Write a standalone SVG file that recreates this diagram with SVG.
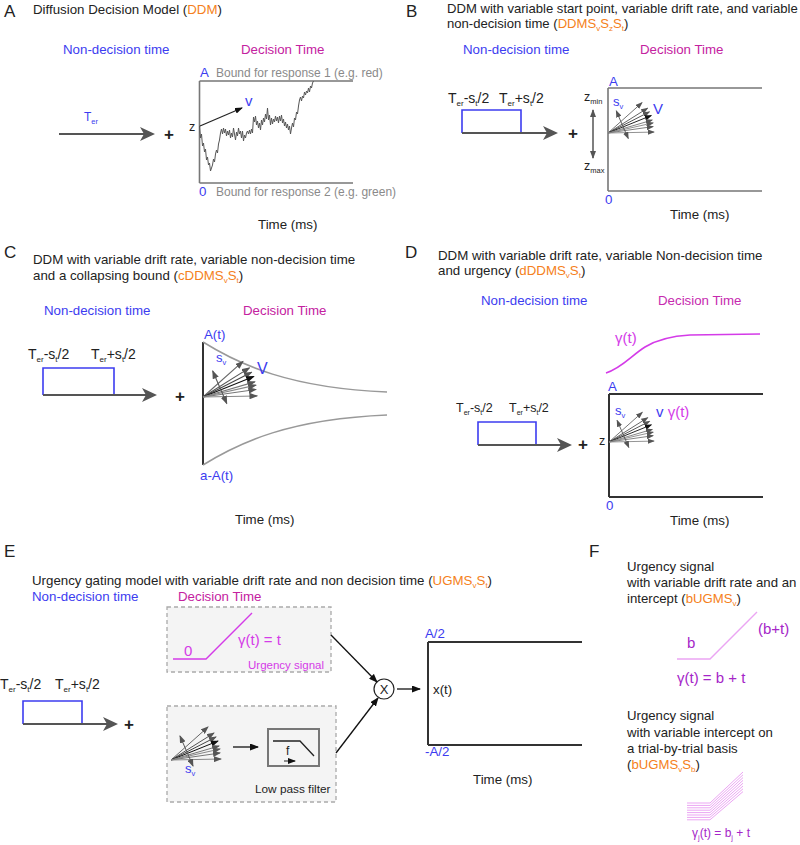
<svg xmlns="http://www.w3.org/2000/svg" xmlns:xlink="http://www.w3.org/1999/xlink" width="800" height="845" viewBox="0 0 800 845">
<style>
text{font-family:"Liberation Sans",Arial,Helvetica,sans-serif;fill:#222}
.f{font-size:13.3px}
.h{font-size:17px}
.blue{fill:#3c3cf0}
.mag{fill:#c4219f}
.org{fill:#f57f20}
.gray{fill:#8a8a8a}
.urg{fill:#d43be8}
.pur{fill:#a526c8}
.nd{fill:none;stroke:#3c3cf0;stroke-width:1.6}
.ter{fill:none;stroke:#555;stroke-width:2}
.ax{fill:none;stroke:#333;stroke-width:2}
.axg{fill:none;stroke:#777;stroke-width:1.6}
.dash{fill:#f4f4f4;stroke:#aaa;stroke-width:1.3;stroke-dasharray:4 3}
.con{fill:none;stroke:#111;stroke-width:1.3}
</style>
<defs>
<marker id="big" markerUnits="userSpaceOnUse" markerWidth="16" markerHeight="14" refX="13" refY="7" orient="auto"><path d="M0,0 L15,7 L0,14 L4,7 z" fill="#555"/></marker>
<marker id="ah" markerUnits="userSpaceOnUse" markerWidth="8" markerHeight="6" refX="7" refY="3" orient="auto-start-reverse"><path d="M0,0 L8,3 L0,6 z" fill="#555"/></marker>
<marker id="ahk" markerUnits="userSpaceOnUse" markerWidth="8" markerHeight="6" refX="7" refY="3" orient="auto"><path d="M0,0 L8,3 L0,6 z" fill="#111"/></marker>
<marker id="ahb" markerUnits="userSpaceOnUse" markerWidth="9" markerHeight="7" refX="8" refY="3.5" orient="auto"><path d="M0,0 L9,3.5 L0,7 z" fill="#111"/></marker>
<g id="fan" stroke-width="1">
<line x1="0" y1="0" x2="37" y2="-33" stroke="#666" marker-end="url(#ah)"/>
<line x1="0" y1="0" x2="43" y2="-27" stroke="#555" marker-end="url(#ah)"/>
<line x1="0" y1="0" x2="45" y2="-23" stroke="#444" marker-end="url(#ah)"/>
<line x1="0" y1="0" x2="47" y2="-19" stroke="#111" marker-end="url(#ahk)"/>
<line x1="0" y1="0" x2="48" y2="-14" stroke="#777" marker-end="url(#ah)"/>
<line x1="0" y1="0" x2="49" y2="-11" stroke="#888" marker-end="url(#ah)"/>
<line x1="0" y1="0" x2="49" y2="-7" stroke="#777" marker-end="url(#ah)"/>
<line x1="0" y1="0" x2="50" y2="-1" stroke="#888" marker-end="url(#ah)"/>
<line x1="9" y1="-24" x2="22" y2="6" stroke="#555" marker-start="url(#ah)" marker-end="url(#ah)"/>
</g>
</defs>
<rect width="800" height="845" fill="#fff"/>

<!-- Panel A -->
<g id="panelA">
<text x="4" y="17" class="h">A</text>
<text x="33" y="14" class="f">Diffusion Decision Model (<tspan class="org">DDM</tspan>)</text>
<text x="63" y="54" class="f blue">Non-decision time</text>
<text x="241" y="54" class="f mag">Decision Time</text>
<g id="A_nondecision">
<text x="84" y="121" font-size="12" class="blue">T<tspan font-size="7.5" dy="3">er</tspan></text>
<line x1="59" y1="134" x2="153" y2="134" class="ter" marker-end="url(#big)"/>
</g>
<text x="164" y="140" font-size="17" font-weight="bold">+</text>
<g id="A_decision">
<path d="M199.5,81 V183 M199.5,81 H353 M199.5,183 H353" class="axg" stroke="#777"/>
<text x="200" y="77" class="f blue">A</text>
<text x="216" y="77" font-size="12" class="gray">Bound for response 1 (e.g. red)</text>
<text x="199" y="196" class="f blue">0</text>
<text x="216" y="196" font-size="12" class="gray">Bound for response 2 (e.g. green)</text>
<text x="189" y="131" font-size="12.5">z</text>
<polyline fill="none" stroke="#555" stroke-width="1" points="199.5,126 200.5,138 201.5,134 202.5,146 203.5,143 204.5,152 205.5,149 206.5,160 207.5,157 208.5,165 209.5,163 210.5,171 211.5,168 212.5,165 213.5,159 214.5,162 215.5,154 216.5,150 217.5,153 218.5,144 219.5,140 220.5,133 221.5,129 222.5,134 223.5,128 224.5,133 225.5,129 226.5,136 227.5,131 228.5,135 229.5,130 230.5,138 231.5,133 232.5,137 233.5,128 234.5,134 235.5,140 236.5,132 237.5,136 238.5,128 239.5,134 240.5,131 241.5,138 242.5,131 243.5,141 244.5,135 245.5,138 246.5,133 247.5,131 248.5,134 249.5,130 250.5,134 251.5,129 252.5,133 253.5,117 254.5,122 255.5,116 256.5,125 257.5,121 258.5,128 259.5,123 260.5,130 261.5,120 262.5,125 263.5,118 264.5,122 265.5,114 266.5,119 267.5,108 268.5,120 269.5,115 270.5,125 271.5,118 272.5,124 273.5,119 274.5,122 275.5,116 276.5,121 277.5,117 278.5,123 279.5,116 280.5,121 281.5,115 282.5,123 283.5,119 284.5,126 285.5,122 286.5,128 287.5,124 288.5,130 289.5,126 290.5,134 291.5,128 292.5,123 293.5,127 294.5,118 295.5,120 296.5,112 297.5,114 298.5,106 299.5,100 300.5,97 301.5,101 302.5,96 303.5,98 304.5,92 305.5,95 306.5,91 307.5,93 308.5,88 309.5,92 310.5,86 311.5,88 312.5,83 313.5,81"/>
<line x1="200" y1="126" x2="242" y2="108" stroke="#222" stroke-width="1.2" marker-end="url(#ahk)"/>
<text x="245" y="106" font-size="15" class="blue">v</text>
</g>
<text x="258" y="229" class="f">Time (ms)</text>
</g>

<!-- Panel B -->
<g id="panelB">
<text x="406" y="17" class="h">B</text>
<text x="447" y="13" font-size="13.1">DDM with variable start point, variable drift rate, and variable</text>
<text x="447" y="28" font-size="13.1">non-decision time (<tspan class="org">DDMS<tspan font-size="8" dy="3">v</tspan><tspan dy="-3">S</tspan><tspan font-size="8" dy="3">z</tspan><tspan dy="-3">S</tspan><tspan font-size="8" dy="3">t</tspan></tspan><tspan dy="-3">)</tspan></text>
<text x="463" y="54" class="f blue">Non-decision time</text>
<text x="640" y="54" class="f mag">Decision Time</text>
<g id="B_nondecision">
<text x="448" y="103" font-size="14">T<tspan font-size="8" dy="3">er</tspan><tspan dy="-3">-s</tspan><tspan font-size="8" dy="3">t</tspan><tspan dy="-3">/2</tspan></text>
<text x="499" y="103" font-size="14">T<tspan font-size="8" dy="3">er</tspan><tspan dy="-3">+s</tspan><tspan font-size="8" dy="3">t</tspan><tspan dy="-3">/2</tspan></text>
<path d="M462,133 V110 H521 V133" class="nd"/>
<line x1="462" y1="133" x2="556" y2="133" class="ter" marker-end="url(#big)"/>
</g>
<text x="568" y="139" font-size="17" font-weight="bold">+</text>
<g id="B_decision">
<path d="M608,88 V191 M608,88 H762 M608,191 H762" class="axg"/>
<text x="609" y="86" class="f blue">A</text>
<text x="605" y="204" class="f blue">0</text>
<text x="584" y="101" font-size="12.5">z<tspan font-size="7.5" dy="3">min</tspan></text>
<text x="584" y="170" font-size="12.5">z<tspan font-size="7.5" dy="3">max</tspan></text>
<line x1="593" y1="110" x2="593" y2="158" stroke="#555" stroke-width="1.5" marker-start="url(#ah)" marker-end="url(#ah)"/>
<use xlink:href="#fan" href="#fan" transform="translate(608,133) scale(0.92)"/>
<text x="613" y="106" font-size="13" class="blue">s<tspan font-size="7.5" dy="3">v</tspan></text>
<text x="653" y="114" font-size="15" class="blue">V</text>
</g>
<text x="670" y="219" class="f">Time (ms)</text>
</g>

<!-- Panel C -->
<g id="panelC">
<text x="4" y="258" class="h">C</text>
<text x="33" y="264" class="f">DDM with variable drift rate, variable non-decision time</text>
<text x="33" y="280" class="f">and a collapsing bound (<tspan class="org">cDDMS<tspan font-size="8" dy="3">v</tspan><tspan dy="-3">S</tspan><tspan font-size="8" dy="3">t</tspan></tspan><tspan dy="-3">)</tspan></text>
<text x="44" y="315" class="f blue">Non-decision time</text>
<text x="243" y="315" class="f mag">Decision Time</text>
<g id="C_nondecision">
<text x="28" y="359" font-size="14">T<tspan font-size="8" dy="3">er</tspan><tspan dy="-3">-s</tspan><tspan font-size="8" dy="3">t</tspan><tspan dy="-3">/2</tspan></text>
<text x="91" y="359" font-size="14">T<tspan font-size="8" dy="3">er</tspan><tspan dy="-3">+s</tspan><tspan font-size="8" dy="3">t</tspan><tspan dy="-3">/2</tspan></text>
<path d="M43,395 V368 H114 V395" class="nd"/>
<line x1="43" y1="395" x2="155" y2="395" class="ter" marker-end="url(#big)"/>
</g>
<text x="175" y="402" font-size="17" font-weight="bold">+</text>
<g id="C_decision">
<line x1="203" y1="342" x2="203" y2="465" class="ax"/>
<path d="M203,342 C240,365 290,388 387,392" fill="none" stroke="#999" stroke-width="1.5"/>
<path d="M203,465 C240,442 290,419 387,415" fill="none" stroke="#999" stroke-width="1.5"/>
<text x="204" y="339" class="f blue">A(t)</text>
<text x="200" y="480" class="f blue">a-A(t)</text>
<use xlink:href="#fan" href="#fan" transform="translate(203,397) scale(1.08)"/>
<text x="216" y="362" font-size="13" class="blue">s<tspan font-size="7.5" dy="3">v</tspan></text>
<text x="257" y="374" font-size="16" class="blue">V</text>
</g>
<text x="235" y="524" class="f">Time (ms)</text>
</g>

<!-- Panel D -->
<g id="panelD">
<text x="405" y="258" class="h">D</text>
<text x="438" y="260" class="f">DDM with variable drift rate, variable Non-decision time</text>
<text x="438" y="275" class="f">and urgency (<tspan class="org">dDDMS<tspan font-size="8" dy="3">v</tspan><tspan dy="-3">S</tspan><tspan font-size="8" dy="3">t</tspan></tspan><tspan dy="-3">)</tspan></text>
<text x="481" y="305" class="f blue">Non-decision time</text>
<text x="658" y="305" class="f" fill="#c62aaf" style="fill:#c62aaf">Decision Time</text>
<g id="D_nondecision">
<text x="456" y="412" font-size="12.5">T<tspan font-size="7" dy="3">er</tspan><tspan dy="-3">-s</tspan><tspan font-size="7" dy="3">t</tspan><tspan dy="-3">/2</tspan></text>
<text x="509" y="412" font-size="12.5">T<tspan font-size="7" dy="3">er</tspan><tspan dy="-3">+s</tspan><tspan font-size="7" dy="3">t</tspan><tspan dy="-3">/2</tspan></text>
<path d="M478,445 V422 H536 V445" class="nd"/>
<line x1="478" y1="445" x2="570" y2="445" class="ter" marker-end="url(#big)"/>
</g>
<text x="578" y="450" font-size="17" font-weight="bold">+</text>
<g id="D_urgency">
<path d="M606,373 C622,368 632,355 645,347 C658,339 672,336 690,335 L760,334" fill="none" stroke="#d43be8" stroke-width="1.6"/>
<text x="615" y="343" font-size="15" class="urg">γ(t)</text>
</g>
<g id="D_decision">
<path d="M609,394 V497 M609,394 H763 M609,497 H763" class="ax"/>
<text x="608" y="391" class="f blue">A</text>
<text x="606" y="510" class="f blue">0</text>
<text x="599" y="445" font-size="12.5">z</text>
<use xlink:href="#fan" href="#fan" transform="translate(609,442) scale(0.9)"/>
<text x="615" y="415" font-size="13" class="blue">s<tspan font-size="7.5" dy="3">v</tspan></text>
<text x="656" y="417" font-size="15" class="blue">v <tspan class="urg">γ(t)</tspan></text>
</g>
<text x="670" y="525" class="f">Time (ms)</text>
</g>

<!-- Panel E -->
<g id="panelE">
<text x="4" y="557" class="h">E</text>
<text x="32" y="585" class="f">Urgency gating model with variable drift rate and non decision time (<tspan class="org">UGMS<tspan font-size="8" dy="3">v</tspan><tspan dy="-3">S</tspan><tspan font-size="8" dy="3">t</tspan></tspan><tspan dy="-3">)</tspan></text>
<text x="32" y="601" class="f blue">Non-decision time</text>
<text x="178" y="601" class="f mag">Decision Time</text>
<g id="E_nondecision">
<text x="0" y="689" font-size="14">T<tspan font-size="8" dy="3">er</tspan><tspan dy="-3">-s</tspan><tspan font-size="8" dy="3">t</tspan><tspan dy="-3">/2</tspan></text>
<text x="55" y="689" font-size="14">T<tspan font-size="8" dy="3">er</tspan><tspan dy="-3">+s</tspan><tspan font-size="8" dy="3">t</tspan><tspan dy="-3">/2</tspan></text>
<path d="M23,724 V701 H82 V724" class="nd"/>
<line x1="23" y1="724" x2="116" y2="724" class="ter" marker-end="url(#big)"/>
</g>
<text x="124" y="730" font-size="17" font-weight="bold">+</text>
<g id="E_urgency">
<rect x="167" y="607" width="164" height="65" class="dash"/>
<polyline points="173,659 206,659 252,613" fill="none" stroke="#d43be8" stroke-width="1.4"/>
<text x="184" y="656" font-size="15" class="urg">0</text>
<text x="238" y="645" font-size="15" class="urg">γ(t) = t</text>
<text x="248" y="669" font-size="11.5" class="urg">Urgency signal</text>
</g>
<g id="E_filter">
<rect x="167" y="706" width="169" height="96" class="dash"/>
<use xlink:href="#fan" href="#fan" transform="translate(171,760)"/>
<text x="185" y="773" font-size="13" class="blue">s<tspan font-size="7.5" dy="3">v</tspan></text>
<rect x="268" y="729" width="51" height="37" fill="none" stroke="#777" stroke-width="2"/>
<polyline points="273,741 300,741 314,756" fill="none" stroke="#222" stroke-width="1.3"/>
<text x="286" y="755" font-size="12">f</text>
<line x1="284" y1="761" x2="295" y2="761" stroke="#222" stroke-width="1" marker-end="url(#ahk)"/>
<text x="255" y="793" font-size="11.8">Low pass filter</text>
</g>
<g id="E_mult">
<circle cx="384" cy="689" r="10" fill="#fff" stroke="#222" stroke-width="1.2"/>
<text x="384" y="694" font-size="13" text-anchor="middle">X</text>
</g>
<g id="E_decision">
<path d="M428,642 V745 M428,642 H582 M428,745 H582" class="ax"/>
<text x="425" y="638" class="f blue">A/2</text>
<text x="425" y="756" class="f blue">-A/2</text>
<text x="433" y="694" class="f">x(t)</text>
</g>
<text x="473" y="784" class="f">Time (ms)</text>
</g>

<!-- Panel F -->
<g id="panelF">
<text x="589" y="557" class="h">F</text>
<g id="F_bUGMSv">
<text x="627" y="571" font-size="13.2">Urgency signal</text>
<text x="627" y="587" font-size="13.2">with variable drift rate and an</text>
<text x="627" y="603" font-size="13.2">intercept (<tspan class="org">bUGMS<tspan font-size="8" dy="3">v</tspan></tspan><tspan dy="-3">)</tspan></text>
<polyline points="677,659 710,659 757,612" fill="none" stroke="#eba5f3" stroke-width="1.4"/>
<text x="687" y="648" font-size="15" class="pur">b</text>
<text x="758" y="634" font-size="15" class="pur">(b+t)</text>
<text x="677" y="683" font-size="15" class="pur">γ(t) = b + t</text>
</g>
<g id="F_bUGMSvSb">
<text x="627" y="720" font-size="13.2">Urgency signal</text>
<text x="627" y="737" font-size="13.2">with variable intercept on</text>
<text x="627" y="753" font-size="13.2">a trial-by-trial basis</text>
<text x="627" y="769" font-size="13.2">(<tspan class="org">bUGMS<tspan font-size="8" dy="3">v</tspan><tspan dy="-3">S</tspan><tspan font-size="8" dy="3">b</tspan></tspan><tspan dy="-3">)</tspan></text>
<g fill="none" stroke="#eba5f3" stroke-width="1">
<polyline points="687,803 710,803 743,772"/>
<polyline points="687,805.4 710,805.4 743,774.8"/>
<polyline points="687,807.8 710,807.8 743,777.6"/>
<polyline points="687,810.2 710,810.2 743,780.4"/>
<polyline points="687,812.6 710,812.6 743,783.2"/>
<polyline points="687,815 710,815 743,786"/>
<polyline points="687,817.4 710,817.4 743,788.8"/>
<polyline points="687,819.8 710,819.8 743,791.6"/>
</g>
<text x="692" y="837" font-size="12" class="pur">γ<tspan font-size="7.5" dy="3">j</tspan><tspan dy="-3">(t) = b</tspan><tspan font-size="7.5" dy="3">j</tspan><tspan dy="-3"> + t</tspan></text>
</g>
</g>

<!-- Connectors -->
<g id="connectors">
<line x1="331" y1="635" x2="377" y2="682" class="con" marker-end="url(#ahb)"/>
<line x1="336" y1="753" x2="378" y2="698" class="con" marker-end="url(#ahb)"/>
<line x1="397" y1="689" x2="420" y2="689" class="con" marker-end="url(#ahb)"/>
<line x1="233" y1="747" x2="258" y2="747" class="con" marker-end="url(#ahb)"/>
</g>
</svg>
